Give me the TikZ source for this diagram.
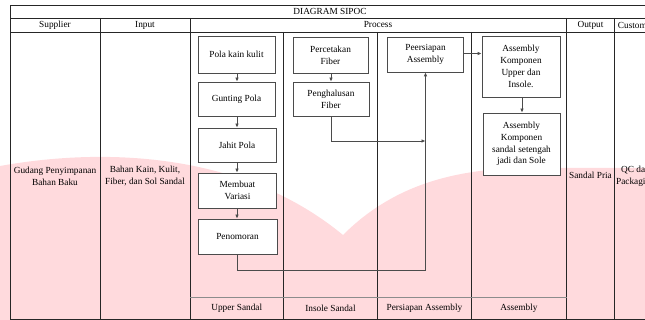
\documentclass[tikz,border=0pt]{standalone}
\usepackage{fontspec}
\setmainfont{Liberation Serif}
\usetikzlibrary{arrows.meta}
\definecolor{wm}{RGB}{255,218,221}
\definecolor{boxline}{RGB}{75,75,75}
\begin{document}
\begin{tikzpicture}[x=1pt,y=-1pt,
  font=\fontsize{9.3}{11.8}\selectfont,
  pbox/.style={draw=boxline, fill=white, line width=0.8pt, align=center, inner sep=1pt},
  conn/.style={draw=boxline, line width=0.8pt, -{Latex[length=4pt,width=3.6pt]}},
  plainconn/.style={draw=boxline, line width=0.8pt},
  gridline/.style={line width=0.7pt, draw=black!85},
  subline/.style={line width=1pt, draw=black!45},
  lbl/.style={align=center, inner sep=0pt}]
\useasboundingbox (0,0) rectangle (645,320);
\clip (0,0) rectangle (645,320);
% watermark
\fill[wm] (0,166) .. controls (100,148) and (240,150) .. (343,235)
  .. controls (390,188) and (450,168) .. (530,168) -- (645,168) -- (645,320) -- (0,320) -- cycle;
% table grid
\draw[gridline] (645,5) -- (10,5) -- (10,319) -- (645,319);
\draw[gridline] (10,18) -- (645,18);
\draw[gridline] (10,32) -- (645,32);
\draw[gridline] (100,18) -- (100,319);
\draw[gridline] (190,18) -- (190,319);
\draw[gridline] (283.5,32) -- (283.5,319);
\draw[gridline] (377.5,32) -- (377.5,319);
\draw[gridline] (471.5,32) -- (471.5,319);
\draw[gridline] (566.5,18) -- (566.5,319);
\draw[gridline] (614.5,18) -- (614.5,319);
\draw[subline] (190,298) -- (566.5,298);
% title and headers
\node[lbl] (title) at (330,11.5) {DIAGRAM SIPOC};
\node[lbl] (hsup) at (55,25) {Supplier};
\node[lbl] (hin) at (145,25) {Input};
\node[lbl] (hproc) at (378,25) {Process};
\node[lbl] (hout) at (590.5,25) {Output};
\node[lbl] (hcus) at (636,25) {Customer};
% column contents
\node[lbl] (sup) at (55,176) {Gudang Penyimpanan\\Bahan Baku};
\node[lbl] (inp) at (145,176) {Bahan Kain, Kulit,\\Fiber, dan Sol Sandal};
\node[lbl] (out) at (590.5,175) {Sandal Pria};
\node[lbl] (cus) at (635.5,176) {QC dan\\Packaging};
% bottom labels
\node[lbl] (l1) at (236.75,308.5) {Upper Sandal};
\node[lbl] (l2) at (330.5,308.5) {Insole Sandal};
\node[lbl] (l3) at (424.5,308.5) {Persiapan Assembly};
\node[lbl] (l4) at (519,308.5) {Assembly};
% process boxes
\node[pbox, minimum width=77pt, minimum height=37pt] (pola) at (236.5,54.5) {Pola kain kulit};
\node[pbox, minimum width=77pt, minimum height=34pt] (gunting) at (236.5,99) {Gunting Pola};
\node[pbox, minimum width=78pt, minimum height=34pt] (jahit) at (237,145) {Jahit Pola};
\node[pbox, minimum width=78pt, minimum height=35pt] (variasi) at (237.5,190.5) {Membuat\\Variasi};
\node[pbox, minimum width=79pt, minimum height=35pt] (penomoran) at (237.5,236.5) {Penomoran};
\node[pbox, minimum width=75pt, minimum height=36pt] (cetak) at (330.5,55) {Percetakan\\Fiber};
\node[pbox, minimum width=76pt, minimum height=34pt] (halus) at (331,99) {Penghalusan\\Fiber};
\node[pbox, minimum width=76pt, minimum height=35pt] (persiapan) at (425.5,54.5) {Peersiapan\\Assembly};
\node[pbox, minimum width=78pt, minimum height=61pt] (asm1) at (521,66.5) {Assembly\\Komponen\\Upper dan\\Insole.};
\node[pbox, minimum width=77pt, minimum height=62pt] (asm2) at (521.5,144) {Assembly\\Komponen\\sandal setengah\\jadi dan Sole};
% connectors
\draw[conn] (pola.south -| 237,0) -- (gunting.north -| 237,0);
\draw[conn] (gunting.south -| 237,0) -- (jahit.north -| 237,0);
\draw[conn] (jahit.south -| 237,0) -- (variasi.north -| 237,0);
\draw[conn] (variasi.south -| 237,0) -- (penomoran.north -| 237,0);
\draw[conn] (cetak.south -| 331,0) -- (halus.north -| 331,0);
\coordinate (bend) at (237,270);
\draw[conn] (penomoran.south -| bend) -- (bend) -| (persiapan.south);
\coordinate (join) at (425.5,141);
\draw[conn] (halus.south) |- (join);
\draw[conn] (persiapan.east |- 0,53.5) -- (asm1.west |- 0,53.5);
\draw[conn] (asm1.south -| 522,0) -- (asm2.north -| 522,0);
\end{tikzpicture}
\end{document}
